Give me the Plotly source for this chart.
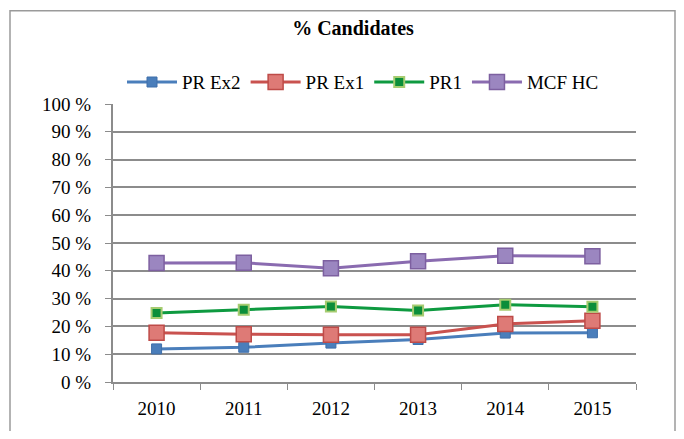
import plotly.graph_objects as go

years = ["2010", "2011", "2012", "2013", "2014", "2015"]
pr_ex2 = [11.9, 12.5, 14.0, 15.3, 17.6, 17.7]
pr_ex1 = [17.7, 17.2, 17.0, 17.0, 20.9, 22.0]
pr1 = [24.8, 26.0, 27.2, 25.7, 27.8, 27.1]
mcf_hc = [42.8, 42.9, 40.9, 43.4, 45.4, 45.2]
y_ticks = [0, 10, 20, 30, 40, 50, 60, 70, 80, 90, 100]
y_tick_labels = [f"{v} %" for v in y_ticks]

FONT = "Liberation Serif"

fig = go.Figure()
fig.add_trace(go.Scatter(
    x=years, y=pr_ex2, name="PR Ex2", mode="lines+markers",
    line=dict(color="#4A7EBB", width=3),
    marker=dict(symbol="square", size=10, color="#4A7EBB", line=dict(color="#3F6FAA", width=1)),
))
fig.add_trace(go.Scatter(
    x=years, y=pr_ex1, name="PR Ex1", mode="lines+markers",
    line=dict(color="#C9524F", width=3),
    marker=dict(symbol="square", size=15, color="#DE7A76", line=dict(color="#BE4B48", width=1.5)),
))
fig.add_trace(go.Scatter(
    x=years, y=pr1, name="PR1", mode="lines+markers",
    line=dict(color="#0E9A40", width=3),
    marker=dict(symbol="square", size=10, color="#0B8E3A", line=dict(color="#A6CC70", width=2)),
))
fig.add_trace(go.Scatter(
    x=years, y=mcf_hc, name="MCF HC", mode="lines+markers",
    line=dict(color="#8A6BB0", width=3),
    marker=dict(symbol="square", size=15, color="#9B86C0", line=dict(color="#7D60A0", width=1.5)),
))

# page body has an 8px margin; figure is sized to fit the 684x439 window
OFF = 8
W, H = 684 - 2 * OFF, 439 - 2 * OFF
L, T = 113 - OFF, 104 - OFF
R = W - (636 - OFF)
B = H - (384 - OFF)
pw, ph = W - L - R, H - T - B

def px(x):  # page x -> paper x
    return (x - OFF - L) / pw

def py(y):  # page y -> paper y
    return (H - B - (y - OFF)) / ph

fig.add_shape(type="rect", xref="paper", yref="paper",
              x0=px(10), x1=px(675), y0=py(460), y1=py(10),
              line=dict(color="#9A9A9A", width=1.5), fillcolor="rgba(0,0,0,0)", layer="below")

fig.update_layout(
    width=W, height=H,
    margin=dict(l=L, r=R, t=T, b=B),
    paper_bgcolor="white", plot_bgcolor="white",
    font=dict(family=FONT, size=19, color="#000000"),
    title=dict(text="% Candidates", xref="container", x=(353 - OFF) / W, xanchor="center",
               yref="container", y=1 - (28 - OFF) / H, yanchor="middle",
               font=dict(family=FONT, size=20, color="#000000", weight="bold")),
    legend=dict(orientation="h", x=px(363), xanchor="center", y=py(82), yanchor="middle",
                font=dict(family=FONT, size=19), itemwidth=50, tracegroupgap=0,
                bgcolor="rgba(0,0,0,0)"),
    showlegend=True,
)
fig.update_xaxes(
    type="category", tickson="boundaries", ticks="outside", ticklen=6, tickcolor="#8C8C8C",
    showline=True, linecolor="#8C8C8C", linewidth=2, showgrid=False,
    tickfont=dict(family=FONT, size=19), range=[-0.5, 5.5], ticklabelstandoff=8,
)
fig.update_yaxes(
    range=[0, 100], tickvals=y_ticks, ticktext=y_tick_labels,
    ticks="outside", ticklen=6, tickcolor="#8C8C8C",
    showline=True, linecolor="#8C8C8C", linewidth=2,
    showgrid=True, gridcolor="#8C8C8C", gridwidth=2, zeroline=False,
    tickfont=dict(family=FONT, size=19), ticklabelstandoff=10,
)

fig.write_html("out.html")
